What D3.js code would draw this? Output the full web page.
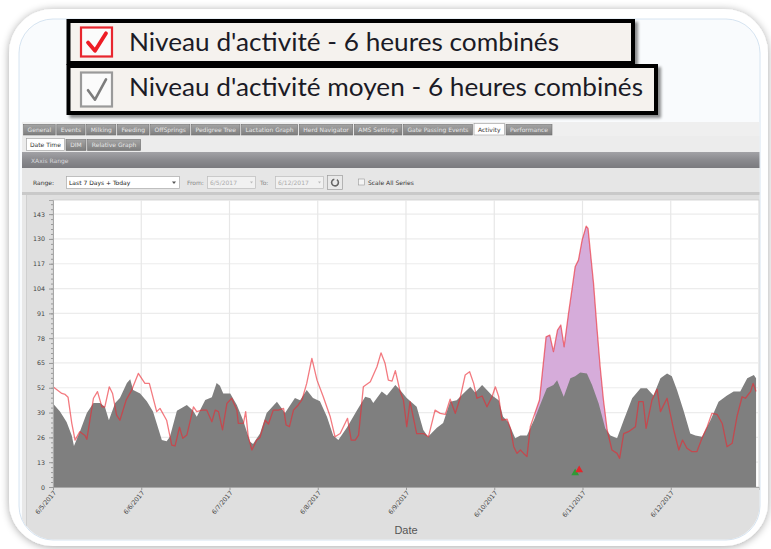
<!DOCTYPE html>
<html><head><meta charset="utf-8">
<script src="https://cdn.jsdelivr.net/npm/d3@7"></script>
<style>
html,body{margin:0;padding:0;background:#fff;overflow:hidden}
svg{display:block}
</style></head><body>
<svg id="c" width="771" height="549"></svg>
<script>
// ---------------- data ----------------
const legendLabels = ["Niveau d'activité - 6 heures combinés", "Niveau d'activité moyen - 6 heures combinés"];
const tabLabels = ["General","Events","Milking","Feeding","OffSprings","Pedigree Tree","Lactation Graph","Herd Navigator","AMS Settings","Gate Passing Events","Activity","Performance"];
const activeTab = "Activity";
const subTabLabels = ["Date Time","DIM","Relative Graph"];
const activeSubTab = "Date Time";
const panelTitle = "XAxis Range";
const rangeOption = "Last 7 Days + Today";
const fromDate = "6/5/2017";
const toDate = "6/12/2017";
const scaleLabel = "Scale All Series";
const xTitle = "Date";
const dayLabels = ["6/5/2017","6/6/2017","6/7/2017","6/8/2017","6/9/2017","6/10/2017","6/11/2017","6/12/2017"];
const yTicks = [0,13,26,39,52,65,78,91,104,117,130,143];
const yMax = 150.4;

// hours since 6/5/2017 00:00
const avgHours = [0,1.9,3.7,5.1,5.7,7.3,9.2,11,12.8,14.1,15.2,16.9,18.2,20.1,21,21.8,23.7,25.5,27.2,29.6,30.9,31.8,33.7,36.4,38.1,39.1,41.4,43.2,44.5,45.4,46.3,48.2,50,51.7,53.6,54.4,56.3,58.1,60.9,63.1,65.8,67.2,69,70.7,72.6,74.5,76.2,77.6,79.9,82.6,84.9,86.3,87.1,89.4,90.8,93.1,94.4,96.2,98.9,100.7,102,104.4,106.1,108,109.8,111.6,113.5,114.8,116.7,118,119.4,121.2,122.4,123.8,125.7,127.1,128.9,131.2,133,134.3,136.1,137.1,138.9,140.7,142,143.4,145.2,146.6,148.4,150.2,151.6,153.4,155.2,157.5,159.8,161.5,163.3,165.2,167,168.3,169.7,171.5,173.3,174.7,176.5,178.8,181,183.3,185.1,186.9,188.8,190.6,191.2];
const avgValues = [43.8,39.5,34,27,21.5,29,38.8,44,44,42,35,44,46.6,54.5,56.5,50.8,49,45,39.5,24.6,24,26.3,40,43,40,36.8,45.6,47,54.5,53,49,49,43,35,23.7,22.5,28,38.8,44.7,38.8,46.6,45.5,50.8,46.6,45,36.8,27,24.6,31,40,47.3,46.5,44,50,48,53.4,50.8,46.6,42,29.9,26.3,31,33.5,44.7,45.5,49,52.5,49.5,53.4,50.8,48,45.5,36.8,34,25.6,27,27,36.8,45.6,51.7,53.4,56,47.3,57,58,60,59.5,53.4,43.8,30.7,27,25.5,35,46.5,51.7,51.7,48,57,59.5,58,50.8,40,28,27,26.3,35,44.7,48,50,50,57,58.7,57];

const actHours = [0,2.4,3.3,4.1,5.1,6,7.3,8.7,9.2,11,12.1,13.3,14.1,15.3,16.2,17.3,18.2,19.9,21.4,23.2,25,26.2,28.2,29.1,30.9,32.3,33.2,34.4,35.3,36.4,38.2,39.1,40.5,41.8,43.2,44.1,45,46.1,47.3,48.6,50,50.4,51.8,52.4,53.1,54.1,55.4,56.3,57.7,58.6,59.9,61.3,62.7,63.4,64.3,65.4,66.7,67.7,69,70.4,71.8,73.5,75.4,76.7,78.1,80.1,81.1,82.2,83.1,84.4,86.3,88.1,89.2,90.3,91.2,92.2,93.1,94.4,95.3,96.2,97.1,98.9,100.8,102.1,103.9,105.3,106.7,108,109.4,110.7,112.1,113.3,114.4,115.3,116.7,118,119.4,120.3,121.2,122.1,123.5,124.4,125.3,126.2,127.1,128,128.9,129.8,131.2,132.3,134.1,135.1,136.1,137.2,138.1,139,140.2,141.1,142,142.9,143.9,145,145.5,146.1,147,147.9,148.8,149.7,150.7,152,153.4,154.1,155.2,156.5,158.4,159.3,160.5,161.3,162.9,164.3,165.2,167,168.8,170.2,171.2,172.4,173.8,175.1,176.5,177.9,179.2,180.6,182,183.3,184.7,186,187.4,188.3,189.7,190.4,191.2];
const actValues = [52.5,49,48.5,47,33.5,24.6,29,27,25,46.5,50,42,42,52.5,49,37.7,35,45.6,50.8,59.5,54.3,54.3,39.5,41.2,35,22,21.5,31.3,25.5,27.2,42,39.5,40.3,40.3,34.2,40.3,39.5,29.9,43.8,46.5,40.3,33.3,33.5,39.5,26.3,19.4,24.6,26,35,33,40.3,40.3,41.2,32.5,31.6,40.3,43,45.6,54.3,67.4,56,47.3,36.8,26.3,28,36,24.6,24.6,27.2,52.5,55.2,63,70.3,64.8,56,55.5,61,50,45.6,31.6,44.7,28,28,26.3,40.3,38.6,38,46,38.6,46.5,58.7,60.4,54.3,46.5,47.7,42,47.3,52.5,47.5,35,35.5,30.7,21.1,17.6,19.4,17.6,15.9,31.6,39.5,45.6,78.7,79.6,70.9,82.2,84.9,73.5,91,103,115.4,118.9,129.4,136.7,135.5,124,106.7,84,63,45.6,30,19.4,17.6,15,28,29,31.6,44.7,44.7,30.7,45.6,51.2,39.5,46.5,29.9,19.4,24.6,20.3,18.5,18.5,25.5,31.6,38.6,38,33.3,21.1,22.9,36.8,47.3,46.5,50,54.3,50];

const alertWindow = [131, 151];          // hours where excess activity is highlighted
const markerHours = [142.0, 143.1];
const markerValues = [7.3, 8.9];
const markerColors = ["#2f9a36", "#e3262b"];

// ---------------- drawing ----------------
const svg = d3.select("#c");
const defs = svg.append("defs");

const sh = defs.append("filter").attr("id","sh").attr("x","-10%").attr("y","-10%").attr("width","120%").attr("height","120%");
sh.append("feGaussianBlur").attr("in","SourceAlpha").attr("stdDeviation",4).attr("result","b");
sh.append("feOffset").attr("in","b").attr("dx",0).attr("dy",1).attr("result","o");
sh.append("feComponentTransfer").attr("in","o").attr("result","o2").append("feFuncA").attr("type","linear").attr("slope",0.35);
const m = sh.append("feMerge"); m.append("feMergeNode").attr("in","o2"); m.append("feMergeNode").attr("in","SourceGraphic");

const bsh = defs.append("filter").attr("id","bsh").attr("x","-5%").attr("y","-20%").attr("width","115%").attr("height","150%");
bsh.append("feGaussianBlur").attr("in","SourceAlpha").attr("stdDeviation",1.5).attr("result","b");
bsh.append("feOffset").attr("in","b").attr("dx",3).attr("dy",3).attr("result","o");
bsh.append("feComponentTransfer").attr("in","o").attr("result","o2").append("feFuncA").attr("type","linear").attr("slope",0.45);
const m2 = bsh.append("feMerge"); m2.append("feMergeNode").attr("in","o2"); m2.append("feMergeNode").attr("in","SourceGraphic");

const tg = defs.append("linearGradient").attr("id","tabg").attr("x1",0).attr("x2",0).attr("y1",0).attr("y2",1);
tg.append("stop").attr("offset","0").attr("stop-color","#a4a4a4");
tg.append("stop").attr("offset","1").attr("stop-color","#7e7e7e");
const hg = defs.append("linearGradient").attr("id","hdrg").attr("x1",0).attr("x2",0).attr("y1",0).attr("y2",1);
hg.append("stop").attr("offset","0").attr("stop-color","#a2a2a6");
hg.append("stop").attr("offset","0.5").attr("stop-color","#8a8a8e");
hg.append("stop").attr("offset","1").attr("stop-color","#7a7a7e");

// outer frame
svg.append("rect").attr("x",9).attr("y",9).attr("width",759).attr("height",537).attr("rx",44)
  .attr("fill","#fff").attr("filter","url(#sh)");
svg.append("rect").attr("x",19).attr("y",19).attr("width",741).attr("height",521).attr("rx",34)
  .attr("fill","#f9fbfd").attr("stroke","#d6e4f1");
defs.append("clipPath").attr("id","inner").append("rect")
  .attr("x",19.5).attr("y",19.5).attr("width",740).attr("height",520).attr("rx",34);

const app = svg.append("g").attr("clip-path","url(#inner)");
const uiFont = "'DejaVu Sans', sans-serif";

// main tabs
app.append("rect").attr("x",22).attr("y",122).attr("width",740).attr("height",14).attr("fill","#efefef");
{
  const g = app.append("g");
  const tmp = g.selectAll("text.m").data(tabLabels).join("text").attr("class","m")
    .attr("font-family",uiFont).attr("font-size",6).text(d=>d);
  const w = []; tmp.each(function(){ w.push(this.getComputedTextLength()+8); });
  tmp.remove();
  const gap = 1.6, x0 = 23.6, x1 = 552;
  const k = (x1 - x0 - gap*(w.length-1)) / d3.sum(w);
  let x = x0;
  tabLabels.forEach((t,i)=>{
    const ww = w[i]*k, act = t===activeTab;
    g.append("rect").attr("x",x).attr("y",act?123.5:124.5).attr("width",ww).attr("height",act?11.5:10.5)
      .attr("fill",act?"#ffffff":"url(#tabg)").attr("stroke",act?"#999":"#6e6e6e").attr("stroke-width",0.6);
    g.append("text").attr("x",x+ww/2).attr("y",132).attr("text-anchor","middle")
      .attr("font-family",uiFont).attr("font-size",6).attr("fill",act?"#333":"#e6e6e6").text(t);
    x += ww + gap;
  });
}
// sub tabs
app.append("rect").attr("x",22).attr("y",136).attr("width",740).attr("height",16).attr("fill","#ececec");
{
  const g = app.append("g");
  const ws = [38, 20, 53]; let x = 26.4;
  subTabLabels.forEach((t,i)=>{
    const act = t===activeSubTab;
    g.append("rect").attr("x",x).attr("y",act?138.5:139.5).attr("width",ws[i]).attr("height",act?12:11)
      .attr("fill",act?"#fff":"url(#tabg)").attr("stroke",act?"#999":"#6e6e6e").attr("stroke-width",0.6);
    g.append("text").attr("x",x+ws[i]/2).attr("y",147).attr("text-anchor","middle")
      .attr("font-family",uiFont).attr("font-size",6).attr("fill",act?"#333":"#e6e6e6").text(t);
    x += ws[i] + 1.6;
  });
}
// header bar
app.append("rect").attr("x",22).attr("y",152).attr("width",740).attr("height",16).attr("fill","url(#hdrg)");
app.append("text").attr("x",31).attr("y",162.5).attr("font-family",uiFont).attr("font-size",6)
  .attr("fill","#d8d8dc").text(panelTitle);
// controls row
app.append("rect").attr("x",22).attr("y",168).attr("width",740).attr("height",26).attr("fill","#e6e6e6");
app.append("rect").attr("x",22).attr("y",192).attr("width",740).attr("height",3).attr("fill","#c9c9c9");
const ctl = app.append("g").attr("font-family",uiFont).attr("font-size",6);
ctl.append("text").attr("x",33).attr("y",185).attr("fill","#333").text("Range:");
ctl.append("rect").attr("x",66.5).attr("y",176.5).attr("width",113).attr("height",12).attr("fill","#fff").attr("stroke","#a9a9a9").attr("stroke-width",0.7);
ctl.append("text").attr("x",69).attr("y",185).attr("fill","#222").text(rangeOption);
ctl.append("path").attr("d","M172,181.5 L176,181.5 L174,184 Z").attr("fill","#555");
ctl.append("text").attr("x",187).attr("y",185).attr("fill","#888").text("From:");
ctl.append("rect").attr("x",207.5).attr("y",176.5).attr("width",48).attr("height",12).attr("fill","#f1f1f1").attr("stroke","#bdbdbd").attr("stroke-width",0.7);
ctl.append("text").attr("x",210).attr("y",185).attr("fill","#aaa").text(fromDate);
ctl.append("path").attr("d","M250,181.5 L253,181.5 L251.5,183.5 Z").attr("fill","#bbb");
ctl.append("text").attr("x",260).attr("y",185).attr("fill","#888").text("To:");
ctl.append("rect").attr("x",275.5).attr("y",176.5).attr("width",48).attr("height",12).attr("fill","#f1f1f1").attr("stroke","#bdbdbd").attr("stroke-width",0.7);
ctl.append("text").attr("x",278).attr("y",185).attr("fill","#aaa").text(toDate);
ctl.append("path").attr("d","M318,181.5 L321,181.5 L319.5,183.5 Z").attr("fill","#bbb");
ctl.append("rect").attr("x",327.5).attr("y",175.5).attr("width",15).attr("height",14).attr("fill","#e9e9e9").attr("stroke","#9d9d9d").attr("stroke-width",0.7);
ctl.append("path").attr("d",d3.arc()({innerRadius:2.6,outerRadius:4.2,startAngle:0.6,endAngle:2*Math.PI-0.2}))
  .attr("transform","translate(335,182.5)").attr("fill","#666");
ctl.append("rect").attr("x",358.5).attr("y",179).attr("width",6).attr("height",6).attr("fill","#f4f4f4").attr("stroke","#999").attr("stroke-width",0.6);
ctl.append("text").attr("x",368).attr("y",185).attr("fill","#333").text(scaleLabel);

// chart panel
app.append("rect").attr("x",22).attr("y",195).attr("width",740).attr("height",350).attr("fill","#dfdfdf");
app.append("rect").attr("x",22).attr("y",195).attr("width",4).attr("height",350).attr("fill","#e8e8e8");
app.append("line").attr("x1",26.5).attr("x2",26.5).attr("y1",195).attr("y2",545).attr("stroke","#cfcfcf");

const L = 53, R = 759, T = 200, B = 487;
const t0 = new Date(2017,5,5);
const toDate_ = h => new Date(t0.getTime() + h*3600e3);
const x = d3.scaleTime().domain([t0, new Date(2017,5,13)]).range([L, R]);
const y = d3.scaleLinear().domain([0, yMax]).range([B, T]);
const dayDates = dayLabels.map(s => d3.timeParse("%m/%d/%Y")(s));

app.append("rect").attr("x",L).attr("y",T).attr("width",R-L).attr("height",B-T)
  .attr("fill","#fff").attr("stroke","#cdcdcd").attr("stroke-width",0.8);
// grid
app.append("g").selectAll("line").data(yTicks.slice(1)).join("line")
  .attr("x1",L).attr("x2",R).attr("y1",d=>y(d)).attr("y2",d=>y(d))
  .attr("stroke","#ececec").attr("stroke-width",1.2);
app.append("g").selectAll("line").data(dayDates.slice(1)).join("line")
  .attr("x1",d=>x(d)).attr("x2",d=>x(d)).attr("y1",T).attr("y2",B)
  .attr("stroke","#e7e7e7").attr("stroke-width",1.2);

const avg = avgHours.map((h,i)=>({t:toDate_(h), v:avgValues[i]}));
const act = actHours.map((h,i)=>({t:toDate_(h), v:actValues[i]}));
const areaGen = d3.area().x(d=>x(d.t)).y0(y(0)).y1(d=>y(d.v));

defs.append("clipPath").attr("id","alert").append("rect")
  .attr("x",x(toDate_(alertWindow[0]))).attr("y",T).attr("width",x(toDate_(alertWindow[1]))-x(toDate_(alertWindow[0]))).attr("height",B-T);
app.append("path").datum(act).attr("d",areaGen).attr("fill","#d6acda").attr("clip-path","url(#alert)");
app.append("path").datum(avg).attr("d",areaGen).attr("fill","#7f7f7f");
app.append("path").datum(act).attr("d",d3.line().x(d=>x(d.t)).y(d=>y(d.v)))
  .attr("fill","none").attr("stroke","rgba(236,40,50,0.62)").attr("stroke-width",1.3).attr("stroke-linejoin","round");

// markers
markerHours.forEach((h,i)=>{
  app.append("path").attr("d",d3.symbol(d3.symbolTriangle,26)())
    .attr("transform",`translate(${x(toDate_(h))},${y(markerValues[i])})`).attr("fill",markerColors[i]);
});

// axes
const yAxis = app.append("g").attr("transform",`translate(${L},0)`)
  .call(d3.axisLeft(y).tickValues(yTicks).tickSize(4).tickPadding(4));
const minor = d3.range(0, yMax, 13/5);
app.append("g").attr("transform",`translate(${L},0)`)
  .call(d3.axisLeft(y).tickValues(minor).tickSize(2).tickFormat(""))
  .call(g=>g.select(".domain").remove())
  .selectAll("line").attr("stroke","#999");
yAxis.select(".domain").attr("stroke","#a8a8a8");
yAxis.selectAll("line").attr("stroke","#999");
yAxis.selectAll("text").attr("font-family",uiFont).attr("font-size",6.3).attr("fill","#444");

const xAxis = app.append("g").attr("transform",`translate(0,${B})`)
  .call(d3.axisBottom(x).tickValues(dayDates).tickSize(3).tickFormat((d,i)=>dayLabels[i]));
xAxis.select(".domain").attr("stroke","#a8a8a8");
xAxis.selectAll("line").attr("stroke","#999");
xAxis.selectAll("text").attr("font-family",uiFont).attr("font-size",6.3).attr("fill","#444")
  .attr("text-anchor","end").attr("dy",0).attr("y",0)
  .attr("transform","translate(3,6) rotate(-50)");
app.append("text").attr("x",(L+R)/2).attr("y",534).attr("text-anchor","middle")
  .attr("font-family","'Liberation Sans', Arial, sans-serif").attr("font-size",11).attr("fill","#555").text(xTitle);

// legend boxes (callouts)
function legendBox(yTop, h, right, label, textW, baseline, checked) {
  const g = svg.append("g");
  g.append("rect").attr("x",68.5).attr("y",yTop).attr("width",right-68.5).attr("height",h)
    .attr("fill","#f5f2ee").attr("stroke","#000").attr("stroke-width",4).attr("filter","url(#bsh)");
  const cb = checked;
  g.append("rect").attr("x",81).attr("y",yTop+6.5).attr("width",31).attr("height",h-13)
    .attr("fill","#fbfbfb").attr("stroke",cb.stroke).attr("stroke-width",2.2);
  const cx = 81, cy = yTop+6.5, ch = h-13;
  g.append("path").attr("d",`M${cx+7},${cy+ch*0.52} L${cx+14},${cy+ch*0.8} L${cx+25},${cy+ch*0.2}`)
    .attr("fill","none").attr("stroke",cb.check).attr("stroke-width",cb.w).attr("stroke-linecap","round").attr("stroke-linejoin","round");
  g.append("text").attr("x",129).attr("y",baseline).attr("font-family","Lato, 'Open Sans', sans-serif")
    .attr("font-size",25).attr("fill","#1b1b26").attr("textLength",textW).attr("lengthAdjust","spacingAndGlyphs").text(label);
}
legendBox(21, 42, 633, legendLabels[0], 430, 51, {stroke:"#e8262e", check:"#ee1c25", w:3.8});
legendBox(66, 47, 656, legendLabels[1], 514, 96, {stroke:"#9a9a9a", check:"#7d7d7d", w:2.6});
</script>
</body></html>
